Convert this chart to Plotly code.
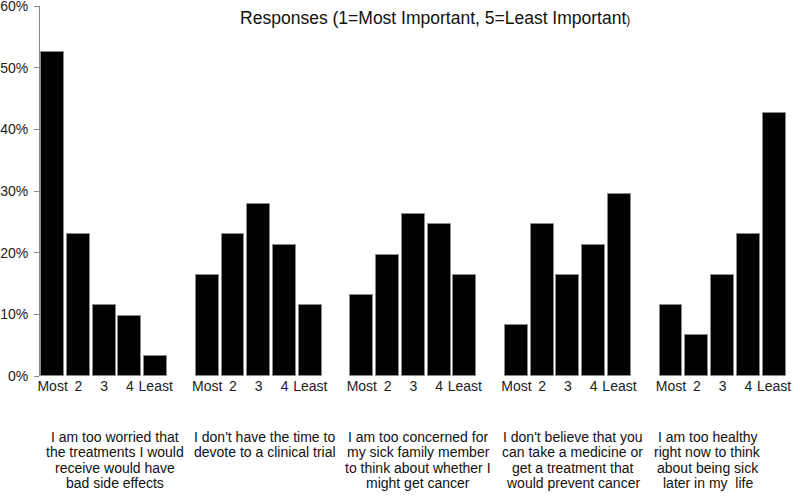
import plotly.graph_objects as go

# survey reasons (one group of bars each), one list entry per printed line
reasons = [
    ["I am too worried that", "the treatments I would", "receive would have", "bad side effects"],
    ["I don't have the time to", "devote to a clinical trial"],
    ["I am too concerned for", "my sick family member", "to think about whether I", "might get cancer"],
    ["I don't believe that you", "can take a medicine or", "get a treatment that", "would prevent cancer"],
    ["I am too healthy", "right now to think", "about being sick", "later in my  life"],
]
ranks = ["Most", "2", "3", "4", "Least"]

# percent of respondents per rank, one list per reason
worried = [52.5, 23.0, 11.5, 9.8, 3.3]
no_time = [16.4, 23.0, 27.9, 21.3, 11.5]
family = [13.1, 19.7, 26.2, 24.6, 16.4]
no_belief = [8.2, 24.6, 16.4, 21.3, 29.5]
healthy = [11.5, 6.6, 16.4, 23.0, 42.6]
series = [worried, no_time, family, no_belief, healthy]

# x positions: 5 bars per group, one empty slot between groups
xs, ys, tickvals, ticktext = [], [], [], []
for g, vals in enumerate(series):
    for r, v in enumerate(vals):
        xs.append(g * 6 + r)
        ys.append(v)
        tickvals.append(g * 6 + r)
        ticktext.append(ranks[r])

fig = go.Figure()
fig.add_trace(go.Bar(
    x=xs, y=ys, width=0.89,
    marker=dict(color="black", line=dict(color="#8a8a8a", width=1)),
    showlegend=False,
))

# group labels under the rank ticks (one annotation per line, tight spacing)
shifts = [11, 6, 5, 5, -15]
for g, lines in enumerate(reasons):
    for i, line in enumerate(lines):
        fig.add_annotation(
            x=g * 6 + 2, y=0, xref="x", yref="paper",
            yshift=-61 - 15.3 * i, xshift=shifts[g],
            text=line, showarrow=False, xanchor="center", yanchor="middle",
            font=dict(family="Liberation Sans, Arial", size=14, color="#111"),
        )

fig.update_layout(
    width=800, height=500,
    margin=dict(l=40, r=12, t=6, b=124, autoexpand=False),
    paper_bgcolor="white", plot_bgcolor="white",
    font=dict(family="Liberation Sans, Arial", size=14, color="#222"),
    title=dict(
        text="Responses (1=Most Important, 5=Least Important<span style='font-size:12px'>)</span>",
        x=0.544, xanchor="center", xref="container",
        y=0.964, yanchor="middle", yref="container",
        font=dict(family="Liberation Sans, Arial", size=17.5, color="#111"),
    ),
    bargap=0,
)
fig.update_xaxes(
    range=[-0.49, 28.54], tickvals=tickvals, ticktext=ticktext,
    showline=False, showgrid=False, zeroline=False, ticks="",
    tickfont=dict(size=14, color="#222"), ticklabelstandoff=0,
    automargin=False,
)
fig.update_yaxes(
    range=[0, 60], dtick=10, ticksuffix="%",
    showline=True, linecolor="#8a8a8a", linewidth=1,
    ticks="outside", ticklen=5, tickcolor="#8a8a8a",
    showgrid=False, zeroline=False, ticklabeloverflow="allow",
    ticklabelstandoff=3, automargin=False,
    tickfont=dict(size=14, color="#222"),
)

# the page body has a default 8px margin; drop it so the figure sits at 0,0
fig.write_html("out.html", config={"displayModeBar": False},
               post_script="document.body.style.margin='0';")
